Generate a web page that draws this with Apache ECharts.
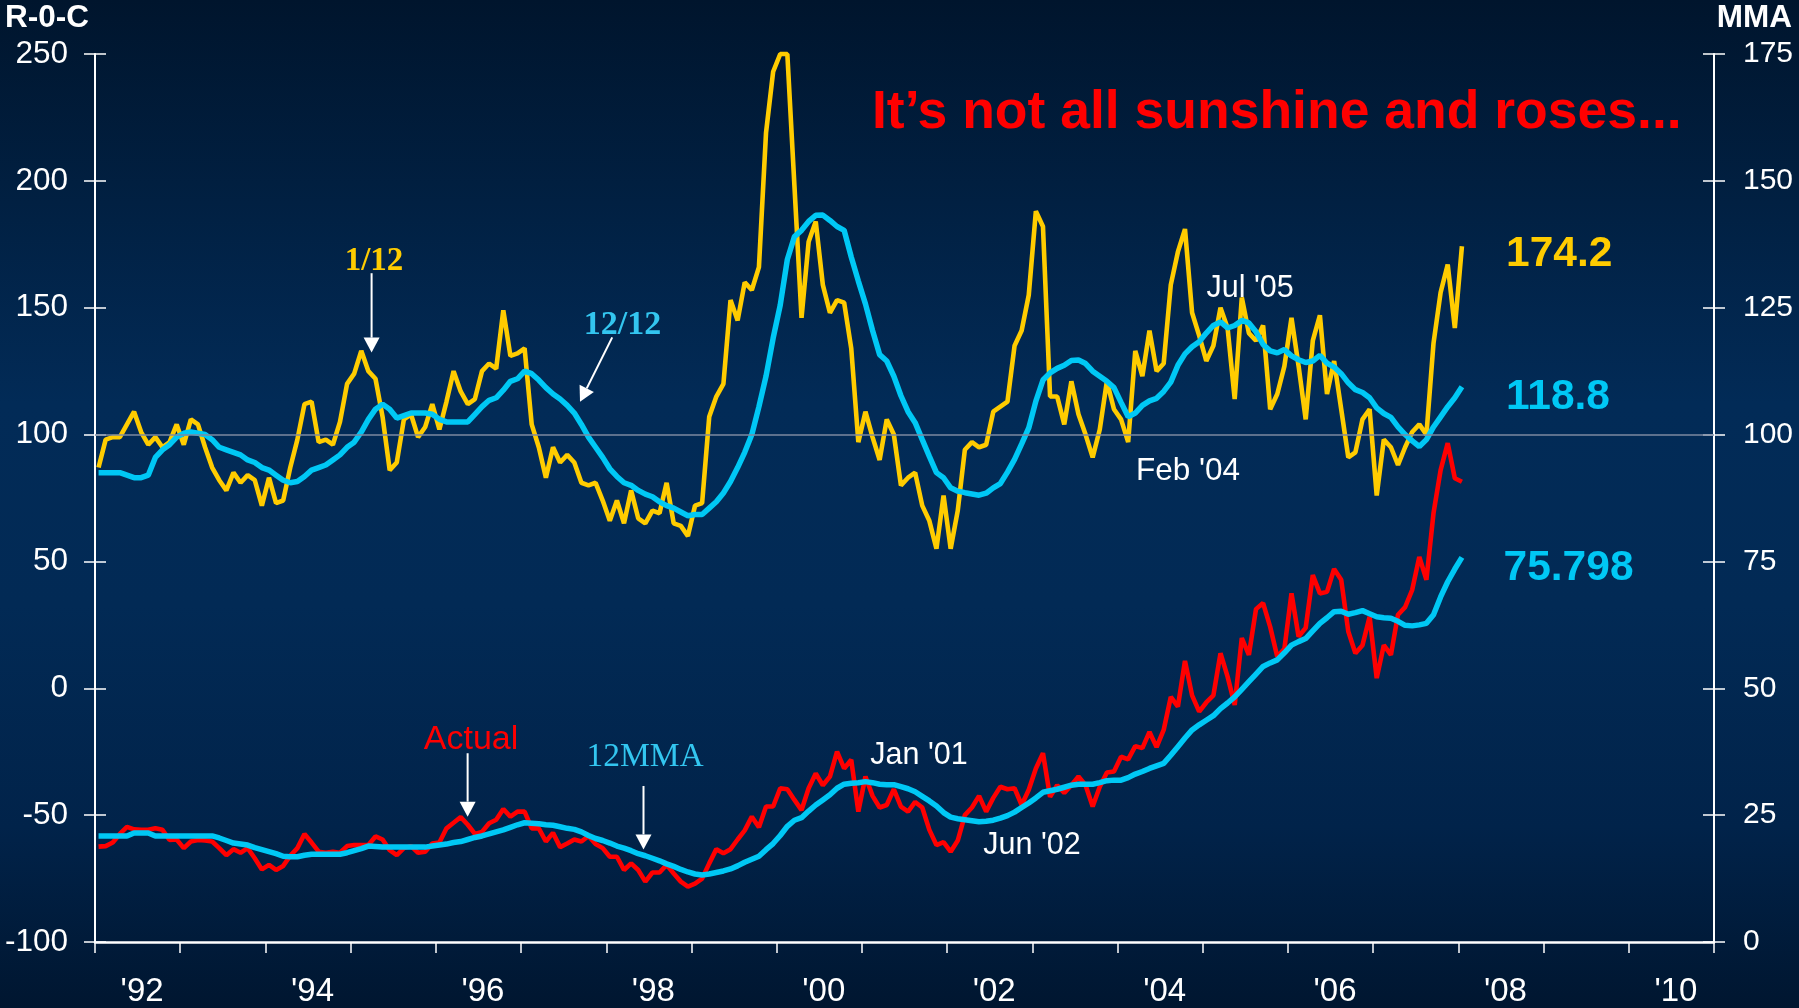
<!DOCTYPE html>
<html>
<head>
<meta charset="utf-8">
<script src="https://cdn.jsdelivr.net/npm/echarts@6/dist/echarts.min.js"></script>
<style>
html,body{margin:0;padding:0;background:#001a35;overflow:hidden;}
#c{width:1799px;height:1008px;}
</style>
</head>
<body>
<div id="c"></div>
<script>
// ---------------- DATA (monthly, Jan 1992 .. Jan 2008) ----------------
const startYear = 1992;

// 1/12 rate of change (left axis, R-0-C)
const roc112 = [
  87, 98, 99, 99, 104, 109, 101, 96, 99, 95, 97, 104,
  96, 106, 104, 95, 87, 82, 78, 85, 81, 84, 82, 72,
  83, 73, 74, 87, 98, 112, 113, 97, 98, 96, 105, 120,
  124, 133, 125, 122, 107, 86, 89, 106, 108, 99, 103, 112,
  102, 113, 125, 117, 112, 114, 125, 128, 126, 149, 131, 132,
  134, 104, 95, 83, 95, 89, 92, 89, 81, 80, 81, 74,
  66, 74, 65, 78, 67, 65, 70, 69, 81, 65, 64, 60,
  72, 73, 107, 115, 120, 153, 145, 160, 157, 166, 219, 243,
  250, 250, 198, 146, 176, 184, 159, 148, 153, 152, 134, 97,
  109, 99, 90, 106, 100, 80, 83, 85, 72, 66, 55, 76,
  55, 70, 94, 97, 95, 96, 109, 111, 113, 135, 141, 155,
  188, 182, 115, 115, 104, 121, 108, 100, 91, 102, 121, 110,
  106, 97, 133, 123, 141, 125, 128, 159, 172, 181, 148, 139,
  129, 135, 150, 142, 114, 154, 140, 137, 143, 110, 116, 127,
  146, 127, 106, 137, 147, 116, 129, 110, 91, 93, 106, 110,
  76, 98, 95, 88, 95, 101, 104, 100, 136, 156, 167, 142,
  174.2
];

// 12/12 rate of change (left axis)
const roc1212 = [
  85, 85, 85, 85, 84, 83, 83, 84, 91, 94, 96, 99,
  100.5, 101, 100.5, 100, 98, 95, 94, 93, 92, 90, 89, 87,
  86, 84, 82, 81, 81.5, 83.5, 86, 87, 88, 90, 92, 95,
  97, 101, 106, 110, 112, 110, 106.5, 107.5, 108.5, 108.5, 108.5, 108,
  106, 105, 105, 105, 105, 108, 111, 113.5, 114.5, 117.5, 121, 122,
  125, 124, 121.5, 118.5, 116, 114, 111.5, 108.5, 104, 99, 95, 91,
  86.5, 83.5, 81, 80, 78, 76.5, 75.5, 73.5, 72, 71, 69.5, 68,
  68.5, 68.5, 71, 73.5, 77, 81.5, 87, 93, 100, 111, 123, 138,
  151, 169, 178, 180.5, 184, 186.4, 186.5, 184.4, 182, 180.5, 170, 160.5,
  151.5, 141, 131.5, 129, 123, 115.3, 109, 104.7, 98, 91.4, 85, 83,
  79, 77.7, 77.1, 76.6, 76.1, 76.9, 79, 80.7, 85.2, 90.2, 96.3, 102.6,
  113.2, 121.5, 124.3, 126.1, 127.3, 129.2, 129.4, 128, 125, 123, 121, 118.5,
  112.7, 107, 108.5, 111.5, 113.3, 114.3, 117, 120.7, 127.3, 131.8, 134.6, 136.6,
  140, 143, 144.4, 142, 143, 145, 144, 140.5, 135.5, 133, 132.2, 133.5,
  131, 129.5, 128.4, 129, 131.2, 128.2, 126.6, 124, 120.4, 117.7, 116.6, 114.5,
  110.5, 108.3, 106.8, 103, 100, 97.5, 95.3, 98, 103, 107, 111, 114.5,
  118.8
];

// Actual (right axis, MMA)
const mmaActual = [
  18.8, 18.9, 19.6, 21.3, 22.7, 22.2, 22.1, 22.1, 22.4, 22.1, 20.1, 20.2,
  18.5, 19.8, 20.1, 20, 19.8, 18.5, 17.1, 18.3, 17.6, 18.5, 16.5, 14.3,
  15.2, 14.2, 15, 17, 18.5, 21.3, 19.6, 17.8, 17.6, 17.8, 17.6, 18.9,
  19.1, 19.1, 19.1, 20.8, 20.2, 18.1, 17.1, 18.5, 18.9, 17.6, 17.8, 19.4,
  19.6, 22.4, 23.5, 24.6, 23.1, 21.3, 21.7, 23.4, 24.1, 26.2, 24.7, 25.7,
  25.7, 22.4, 22.4, 19.8, 21.5, 18.7, 19.4, 20.2, 19.8, 20.9, 19.3, 18.5,
  16.8, 16.8, 14.2, 15.5, 14.2, 11.9, 13.7, 13.7, 15.2, 13.5, 11.9, 10.9,
  11.5, 12.5, 15.5, 18.3, 17.5, 18.3, 20.2, 22, 24.7, 22.6, 26.7, 26.7,
  30.3, 30.1, 28, 26, 30.3, 33.2, 30.9, 32.6, 37.5, 34.2, 35.9, 25.7,
  32.6, 28.8, 26.5, 27, 30.1, 26.7, 25.7, 27.6, 26.5, 22.1, 19.1, 19.7,
  17.8, 20, 25, 26.5, 28.8, 25.7, 28.4, 30.6, 30.1, 30.3, 27, 30,
  34.2, 37.2, 28.6, 30.9, 29.4, 30.9, 32.6, 30.9, 26.7, 30.6, 33.4, 33.6,
  36.5, 36, 38.6, 38.2, 41.4, 38.4, 41.8, 48.3, 46.4, 55.4, 48.6, 45.4,
  47.2, 48.6, 56.9, 52.3, 46.7, 59.9, 56.6, 65.6, 66.8, 62.1, 56.2, 57.8,
  68.7, 60.2, 61.9, 72.3, 68.7, 69, 73.5, 71.4, 61.2, 56.9, 58.5, 64.1,
  52, 58.5, 56.6, 64.5, 66, 69.4, 75.9, 71.4, 84.5, 93, 98.3, 91.4,
  90.7
];

// 12MMA (right axis, MMA)
const mma12 = [
  20.9, 20.9, 20.9, 20.9, 20.9, 21.5, 21.5, 21.5, 20.9, 20.9, 20.9, 20.9,
  20.9, 20.9, 20.9, 20.9, 20.9, 20.5, 20, 19.5, 19.3, 19.1, 18.6, 18.2,
  17.8, 17.4, 16.9, 16.8, 16.8, 17.1, 17.3, 17.3, 17.3, 17.3, 17.3, 17.6,
  18, 18.4, 18.9, 18.8, 18.7, 18.7, 18.7, 18.7, 18.7, 18.7, 18.7, 18.9,
  19.1, 19.3, 19.6, 19.8, 20.2, 20.6, 20.9, 21.3, 21.7, 22.1, 22.6, 23.1,
  23.5, 23.4, 23.3, 23.1, 23, 22.7, 22.4, 22.2, 21.7, 21, 20.4, 20,
  19.5, 18.9, 18.5, 18, 17.4, 17, 16.5, 16, 15.4, 14.9, 14.3, 13.8,
  13.4, 13.2, 13.4, 13.7, 14, 14.4, 15, 15.7, 16.3, 16.9, 18.2, 19.4,
  21, 22.8, 24, 24.5, 25.8, 27, 28, 29, 30.3, 31.1, 31.3, 31.4,
  31.6, 31.4, 31.1, 31, 31, 30.6, 30.2, 29.6, 28.7, 27.8, 26.8, 25.5,
  24.6, 24.3, 24.1, 23.9, 23.7, 23.8, 24, 24.4, 24.9, 25.6, 26.5, 27.4,
  28.4, 29.5, 29.8, 30.1, 30.5, 30.9, 31.1, 31.1, 31.1, 31.4, 31.8, 31.9,
  31.9, 32.4, 33.1, 33.6, 34.2, 34.7, 35.2, 36.8, 38.5, 40.2, 41.8, 42.8,
  43.7, 44.6, 46, 47.1, 48.3, 49.8, 51.3, 52.8, 54.3, 55, 55.6, 57,
  58.5, 59.2, 59.8, 61.3, 62.8, 63.9, 65.1, 65.2, 64.6, 64.9, 65.3, 64.7,
  64.1, 63.9, 63.8, 63.2, 62.4, 62.3, 62.5, 62.8, 64.5, 68, 71, 73.5,
  75.798
];

const xTickLabels = ["'92","'93","'94","'95","'96","'97","'98","'99","'00","'01","'02","'03","'04","'05","'06","'07","'08","'09","'10"];
const endLabels = ['174.2', '118.8', '75.798'];

// ---------------- CHART ----------------
const SANS = '"Liberation Sans", Arial, sans-serif';
const SERIF = '"Liberation Serif", "Times New Roman", serif';
const YELLOW = '#FFCC00', CYAN = '#00C8F5', RED = '#FF0000', WHITE = '#FFFFFF';

const toXY = arr => arr.map((v, i) => [startYear + (i + 0.5) / 12, v]);

const chart = echarts.init(document.getElementById('c'), null, {renderer: 'canvas'});

const yAxisBase = {
  type: 'value',
  splitLine: {show: false},
  axisLine: {show: true, lineStyle: {color: WHITE, width: 2}},
  axisTick: {show: true, length: 11, lineStyle: {color: WHITE, width: 1.5}},
  axisLabel: {color: WHITE, fontSize: 31.5, fontFamily: SANS, margin: 27}
};
const tickOnly = {
  type: 'value', splitLine: {show: false},
  axisLine: {show: false}, axisLabel: {show: false},
  axisTick: {show: true, inside: true, length: 11, lineStyle: {color: WHITE, width: 1.5}}
};

const option = {
  animation: false,
  backgroundColor: {
    type: 'linear', x: 0, y: 0, x2: 0, y2: 1,
    colorStops: [
      {offset: 0, color: '#00152d'},
      {offset: 0.4, color: '#022b57'},
      {offset: 0.6, color: '#022a55'},
      {offset: 0.82, color: '#01234a'},
      {offset: 1, color: '#001630'}
    ]
  },
  grid: {left: 95, right: 85, top: 54, bottom: 66, containLabel: false},
  xAxis: [
    {
      type: 'value', min: 1992, max: 2011, interval: 1,
      splitLine: {show: false},
      axisLine: {show: true, onZero: false, lineStyle: {color: WHITE, width: 2.5}},
      axisTick: {show: true, length: 11, lineStyle: {color: WHITE, width: 1.5}},
      axisLabel: {show: false}
    },
    {
      type: 'category', data: xTickLabels, boundaryGap: true, position: 'bottom',
      axisLine: {show: false}, axisTick: {show: false}, splitLine: {show: false},
      axisLabel: {interval: 1, color: WHITE, fontSize: 33, fontFamily: SANS, margin: 33,
        padding: [0, 0, 0, 9]}
    }
  ],
  yAxis: [
    Object.assign({}, yAxisBase, {min: -100, max: 250, interval: 50, position: 'left'}),
    Object.assign({}, yAxisBase, {min: 0, max: 175, interval: 25, position: 'right',
      axisLabel: {color: WHITE, fontSize: 30, fontFamily: SANS, margin: 29}}),
    Object.assign({}, tickOnly, {min: -100, max: 250, interval: 50, position: 'left'}),
    Object.assign({}, tickOnly, {min: 0, max: 175, interval: 25, position: 'right'})
  ],
  series: [
    {
      name: 'ref', type: 'line', yAxisIndex: 0, data: toXY(roc112), silent: true,
      showSymbol: false, symbol: 'none', lineStyle: {opacity: 0}, z: 1,
      markLine: {
        silent: true, symbol: ['none', 'none'], label: {show: false},
        lineStyle: {color: '#7d8aa0', width: 1.5, type: 'solid'},
        data: [{yAxis: 100}]
      }
    },
    {
      name: '1/12', type: 'line', yAxisIndex: 0, data: toXY(roc112), clip: false,
      showSymbol: false, symbol: 'none', lineStyle: {color: YELLOW, width: 4.6}, z: 3
    },
    {
      name: '12/12', type: 'line', yAxisIndex: 0, data: toXY(roc1212),
      showSymbol: false, symbol: 'none', lineStyle: {color: CYAN, width: 5.5}, z: 4
    },
    {
      name: 'Actual', type: 'line', yAxisIndex: 1, data: toXY(mmaActual),
      showSymbol: false, symbol: 'none', lineStyle: {color: RED, width: 4.6}, z: 3
    },
    {
      name: '12MMA', type: 'line', yAxisIndex: 1, data: toXY(mma12),
      showSymbol: false, symbol: 'none', lineStyle: {color: CYAN, width: 5.5}, z: 4
    }
  ]
};
chart.setOption(option);

// ---------------- ANNOTATIONS (anchored in data coordinates of left axis) ----------------
const P = (x, y) => chart.convertToPixel({xAxisIndex: 0, yAxisIndex: 0}, [x, y]);
const DY = 3; // baseline correction for middle-aligned text

const notes = [
  {t: '1/12',   x: 1995.274, y: 169.6, c: YELLOW,    f: 'bold 33px ' + SERIF},
  {t: '12/12',  x: 1998.19,  y: 144.4, c: '#33C6F0', f: 'bold 34px ' + SERIF},
  {t: 'Actual', x: 1996.413, y: -19.2, c: RED,       f: '34px ' + SANS},
  {t: '12MMA',  x: 1998.455, y: -25.9, c: '#33C6F0', f: '33.5px ' + SERIF},
  {t: "Jan '01", x: 2001.67, y: -25.5, c: WHITE,     f: '30.5px ' + SANS},
  {t: "Jun '02", x: 2002.996, y: -61,  c: WHITE,     f: '30.5px ' + SANS},
  {t: "Feb '04", x: 2004.827, y: 86.8, c: WHITE,     f: '31.5px ' + SANS},
  {t: "Jul '05", x: 2005.555, y: 158.6, c: WHITE,    f: '30.5px ' + SANS}
];
const arrows = [
  {from: [1995.246, 163.6], to: [1995.246, 132.3]},
  {from: [1998.07, 138.3],  to: [1997.692, 112.9]},
  {from: [1996.373, -25.6], to: [1996.373, -50.6]},
  {from: [1998.437, -38.5], to: [1998.437, -63.5]}
];
const ends = [
  {t: endLabels[0], x: 2008.559, y: 172.5, c: YELLOW},
  {t: endLabels[1], x: 2008.559, y: 116,   c: CYAN},
  {t: endLabels[2], x: 2008.53,  y: 48.6,  c: CYAN}
];

const g = [];
notes.forEach(n => {
  const p = P(n.x, n.y);
  g.push({type: 'text', silent: true, z: 10, style: {
    x: p[0], y: p[1] + DY, text: n.t, font: n.f, fill: n.c,
    align: 'center', verticalAlign: 'middle', textAlign: 'center', textVerticalAlign: 'middle'}});
});
arrows.forEach(a => {
  const p0 = P(a.from[0], a.from[1]), p1 = P(a.to[0], a.to[1]);
  const dx = p1[0] - p0[0], dy = p1[1] - p0[1], L = Math.hypot(dx, dy);
  const ux = dx / L, uy = dy / L, hl = 15, hw = 8;
  const bx = p1[0] - ux * hl, by = p1[1] - uy * hl;
  g.push({type: 'line', silent: true, z: 10, shape: {x1: p0[0], y1: p0[1], x2: bx, y2: by},
    style: {stroke: WHITE, lineWidth: 2}});
  g.push({type: 'polygon', silent: true, z: 10, shape: {points: [
    [p1[0], p1[1]], [bx - uy * hw, by + ux * hw], [bx + uy * hw, by - ux * hw]]},
    style: {fill: WHITE}});
});
ends.forEach(n => {
  const p = P(n.x, n.y);
  g.push({type: 'text', silent: true, z: 10, style: {
    x: p[0], y: p[1] + DY + 0.5, text: n.t, font: 'bold 42.5px ' + SANS, fill: n.c,
    align: 'left', verticalAlign: 'middle', textAlign: 'left', textVerticalAlign: 'middle'}});
});
// titles
g.push({type: 'text', silent: true, z: 10, style: {x: 5, y: 18, text: 'R-0-C',
  font: 'bold 31.5px ' + SANS, fill: WHITE, align: 'left', verticalAlign: 'middle', textAlign: 'left', textVerticalAlign: 'middle'}});
g.push({type: 'text', silent: true, z: 10, style: {x: 1792, y: 18, text: 'MMA',
  font: 'bold 31.5px ' + SANS, fill: WHITE, align: 'right', verticalAlign: 'middle', textAlign: 'right', textVerticalAlign: 'middle'}});
g.push({type: 'text', silent: true, z: 10, style: {x: 872, y: 113, text: 'It\u2019s not all sunshine and roses...',
  font: 'bold 53.5px ' + SANS, fill: RED, align: 'left', verticalAlign: 'middle', textAlign: 'left', textVerticalAlign: 'middle'}});

chart.setOption({graphic: {elements: g}});
</script>
</body>
</html>
